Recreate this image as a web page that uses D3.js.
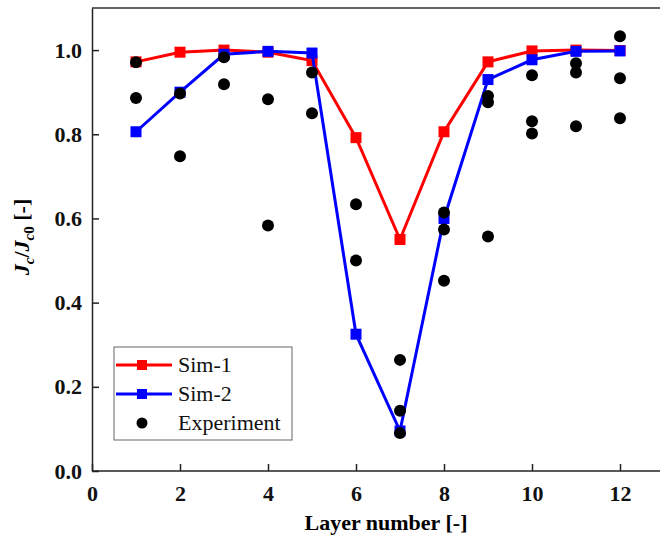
<!DOCTYPE html>
<html>
<head>
<meta charset="utf-8">
<script src="https://cdn.jsdelivr.net/npm/d3@7"></script>
<style>
  body { margin: 0; background: #fff; }
  svg text { font-family: "Liberation Serif", "DejaVu Serif", serif; }
</style>
</head>
<body>
<div id="chartContainer"></div>
<script>
const layers = [1, 2, 3, 4, 5, 6, 7, 8, 9, 10, 11, 12];
const sim1 = [0.972, 0.995, 1.0, 0.995, 0.975, 0.792, 0.55, 0.806, 0.972, 0.998, 1.0, 0.999];
const sim2 = [0.806, 0.9, 0.99, 0.997, 0.993, 0.325, 0.095, 0.6, 0.93, 0.977, 0.997, 0.998];
const expX = [1, 1, 2, 2, 3, 3, 4, 4, 5, 5, 6, 6, 7, 7, 7, 8, 8, 8, 9, 9, 9, 10, 10, 10, 11, 11, 11, 12, 12, 12];
const expY = [0.971, 0.886, 0.897, 0.748, 0.983, 0.919, 0.883, 0.583, 0.947, 0.85, 0.634, 0.5,
  0.264, 0.143, 0.09, 0.614, 0.574, 0.452, 0.891, 0.876, 0.557, 0.94, 0.831, 0.802,
  0.969, 0.947, 0.819, 1.033, 0.933, 0.838];
const xTicks = [0, 2, 4, 6, 8, 10, 12];
const yTicks = [0.0, 0.2, 0.4, 0.6, 0.8, 1.0];

const width = 660, height = 539;
const margin = { top: 8, right: -4, bottom: 68, left: 92 };
const serif = '"Liberation Serif", "DejaVu Serif", serif';

const svg = d3.select('#chartContainer')
  .append('svg')
  .attr('width', width)
  .attr('height', height);

const x = d3.scaleLinear().domain([0, 13]).range([margin.left, width - margin.right]);
const y = d3.scaleLinear().domain([0, 1.1]).range([height - margin.bottom, margin.top]);

// frame (right side falls outside the picture)
svg.append('line')
  .attr('x1', margin.left).attr('x2', width)
  .attr('y1', y(1.1)).attr('y2', y(1.1))
  .attr('stroke', '#333').attr('stroke-width', 1.5);

const xAxis = svg.append('g')
  .attr('transform', `translate(0,${y(0)})`)
  .call(d3.axisBottom(x).tickValues(xTicks).tickSizeInner(-7).tickSizeOuter(0).tickPadding(14));
const yAxis = svg.append('g')
  .attr('transform', `translate(${x(0)},0)`)
  .call(d3.axisLeft(y).tickValues(yTicks).tickFormat(d3.format('.1f')).tickSizeInner(-7).tickSizeOuter(0).tickPadding(10));

[xAxis, yAxis].forEach(g => {
  g.attr('font-family', serif).attr('font-size', 22);
  g.select('.domain').attr('stroke', '#222').attr('stroke-width', 1.5);
  g.selectAll('.tick line').attr('stroke', '#222').attr('stroke-width', 1.5);
  g.selectAll('.tick text')
    .attr('font-family', serif)
    .attr('font-size', 22).attr('font-weight', 'bold').attr('fill', '#111');
});
xAxis.select('.domain').attr('d', `M${x(0)},0H${width}`);

svg.append('text')
  .attr('x', 386).attr('y', 530)
  .attr('text-anchor', 'middle')
  .attr('font-family', serif)
  .attr('font-size', 22).attr('font-weight', 'bold')
  .text('Layer number [-]');

const yl = svg.append('text')
  .attr('transform', 'translate(29,237) rotate(-90)')
  .attr('text-anchor', 'middle')
  .attr('font-family', serif)
  .attr('font-size', 22).attr('font-weight', 'bold');
yl.append('tspan').attr('font-style', 'italic').text('J');
yl.append('tspan').attr('font-style', 'italic').attr('font-size', 15).attr('dy', 5).text('c');
yl.append('tspan').attr('dy', -5).text('/');
yl.append('tspan').attr('font-style', 'italic').text('J');
yl.append('tspan').attr('font-style', 'italic').attr('font-size', 15).attr('dy', 5).text('c');
yl.append('tspan').attr('font-size', 15).text('0');
yl.append('tspan').attr('dy', -5).text(' [-]');

const line = d3.line().x((d, i) => x(layers[i])).y(d => y(d));

function drawSeries(values, color) {
  svg.append('path')
    .datum(values)
    .attr('fill', 'none')
    .attr('stroke', color)
    .attr('stroke-width', 3)
    .attr('d', line);
  svg.selectAll(null)
    .data(values)
    .enter()
    .append('rect')
    .attr('x', (d, i) => x(layers[i]) - 5.5)
    .attr('y', d => y(d) - 5.5)
    .attr('width', 11).attr('height', 11)
    .attr('fill', color);
}
drawSeries(sim1, '#ff0000');
drawSeries(sim2, '#0000ff');

svg.selectAll(null)
  .data(expY)
  .enter()
  .append('circle')
  .attr('cx', (d, i) => x(expX[i]))
  .attr('cy', d => y(d))
  .attr('r', 6)
  .attr('fill', '#000');

// legend
const lg = svg.append('g');
lg.append('rect')
  .attr('x', 114).attr('y', 347).attr('width', 178).attr('height', 93)
  .attr('fill', '#fff').attr('stroke', '#666').attr('stroke-width', 1);
const items = [
  { name: 'Sim-1', color: '#ff0000', type: 'line' },
  { name: 'Sim-2', color: '#0000ff', type: 'line' },
  { name: 'Experiment', color: '#000', type: 'dot' }
];
items.forEach((it, i) => {
  const cy = 365 + i * 29;
  if (it.type === 'line') {
    lg.append('line').attr('x1', 116).attr('x2', 172).attr('y1', cy).attr('y2', cy)
      .attr('stroke', it.color).attr('stroke-width', 3);
    lg.append('rect').attr('x', 137).attr('y', cy - 5).attr('width', 10).attr('height', 10).attr('fill', it.color);
  } else {
    lg.append('circle').attr('cx', 142).attr('cy', cy).attr('r', 5.5).attr('fill', it.color);
  }
  lg.append('text').attr('x', 178).attr('y', cy + 7)
    .attr('font-family', serif)
    .attr('font-size', 22).attr('fill', '#111').text(it.name);
});
</script>
</body>
</html>
